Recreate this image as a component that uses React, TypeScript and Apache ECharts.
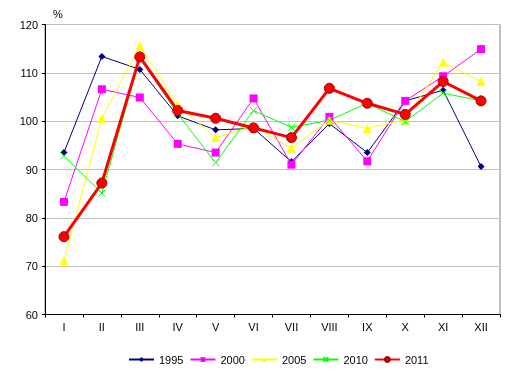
import React, { useEffect, useRef } from "react";
import * as echarts from "echarts";

const categories = ["I", "II", "III", "IV", "V", "VI", "VII", "VIII", "IX", "X", "XI", "XII"];
const s1995 = [93.5, 113.4, 110.7, 101.1, 98.2, 98.5, 91.6, 99.5, 93.5, 104.2, 106.4, 90.6];
const s2000 = [83.3, 106.6, 104.9, 95.3, 93.5, 104.7, 91.0, 100.9, 91.7, 104.2, 109.3, 114.9];
const s2005 = [71.1, 100.6, 115.6, 103.3, 96.6, 99.0, 94.4, 100.2, 98.5, 100.3, 112.2, 108.2];
const s2010 = [92.8, 85.1, 113.0, 101.5, 91.4, 102.2, 98.7, 100.2, 103.7, 99.9, 105.8, 104.2];
const s2011 = [76.1, 87.2, 113.3, 102.2, 100.6, 98.6, 96.6, 106.8, 103.7, 101.4, 108.2, 104.2];
const yTicks = { min: 60, max: 120, interval: 10 };

export default function App() {
  const ref = useRef<HTMLDivElement>(null);
  useEffect(() => {
    const chart = echarts.init(ref.current!, null, { renderer: "svg" });
    const font = "Arial, 'Liberation Sans', sans-serif";
    const mk = (name: string, data: number[], color: string, symbol: string, size: number, width: number, extra: any = {}) => ({
      name,
      type: "line",
      data,
      symbol,
      symbolSize: size,
      showSymbol: true,
      lineStyle: { color, width },
      itemStyle: { color, ...extra },
      emphasis: { disabled: true },
    });
    chart.setOption({
      animation: false,
      textStyle: { fontFamily: font },
      grid: { left: 45, right: 15, top: 24.5, bottom: 62.5, show: true, borderColor: "#808080", borderWidth: 1 },
      xAxis: {
        type: "category",
        data: categories,
        boundaryGap: true,
        axisLine: { lineStyle: { color: "#000", width: 1 } },
        axisTick: { show: true, length: 3, lineStyle: { color: "#000" }, alignWithLabel: false },
        axisLabel: { color: "#000", fontSize: 11, margin: 7, fontFamily: font },
        splitLine: { show: false },
      },
      yAxis: {
        type: "value",
        min: yTicks.min,
        max: yTicks.max,
        interval: yTicks.interval,
        axisLine: { show: true, lineStyle: { color: "#000", width: 1 } },
        axisTick: { show: true, length: 3, lineStyle: { color: "#000" } },
        axisLabel: { color: "#000", fontSize: 11, margin: 7, fontFamily: font },
        splitLine: { show: true, lineStyle: { color: "#c0c0c0", width: 1 } },
      },
      legend: {
        left: 128,
        top: 354,
        padding: 0,
        itemWidth: 25,
        itemHeight: 6,
        itemGap: 6,
        textStyle: { color: "#000", fontSize: 11, fontFamily: font },
        data: ["1995", "2000", "2005", "2010", "2011"],
      },
      graphic: [
        { type: "text", left: 53, top: 8, style: { text: "%", fontSize: 11, fill: "#000", fontFamily: font } },
      ],
      series: [
        mk("1995", s1995, "#000080", "diamond", 7, 1),
        mk("2000", s2000, "#ff00ff", "rect", 8, 1),
        mk("2005", s2005, "#ffff00", "triangle", 9, 1),
        mk("2010", s2010, "#00ff00", "path://M0,0L10,10M10,0L0,10", 7, 1, { borderColor: "#00ff00", borderWidth: 1 }),
        mk("2011", s2011, "#ff0000", "circle", 10, 3, { borderColor: "#990000", borderWidth: 1 }),
      ],
    });
    return () => chart.dispose();
  }, []);
  return <div ref={ref} style={{ position: "fixed", left: 0, top: 0, width: 515, height: 377 }} />;
}
